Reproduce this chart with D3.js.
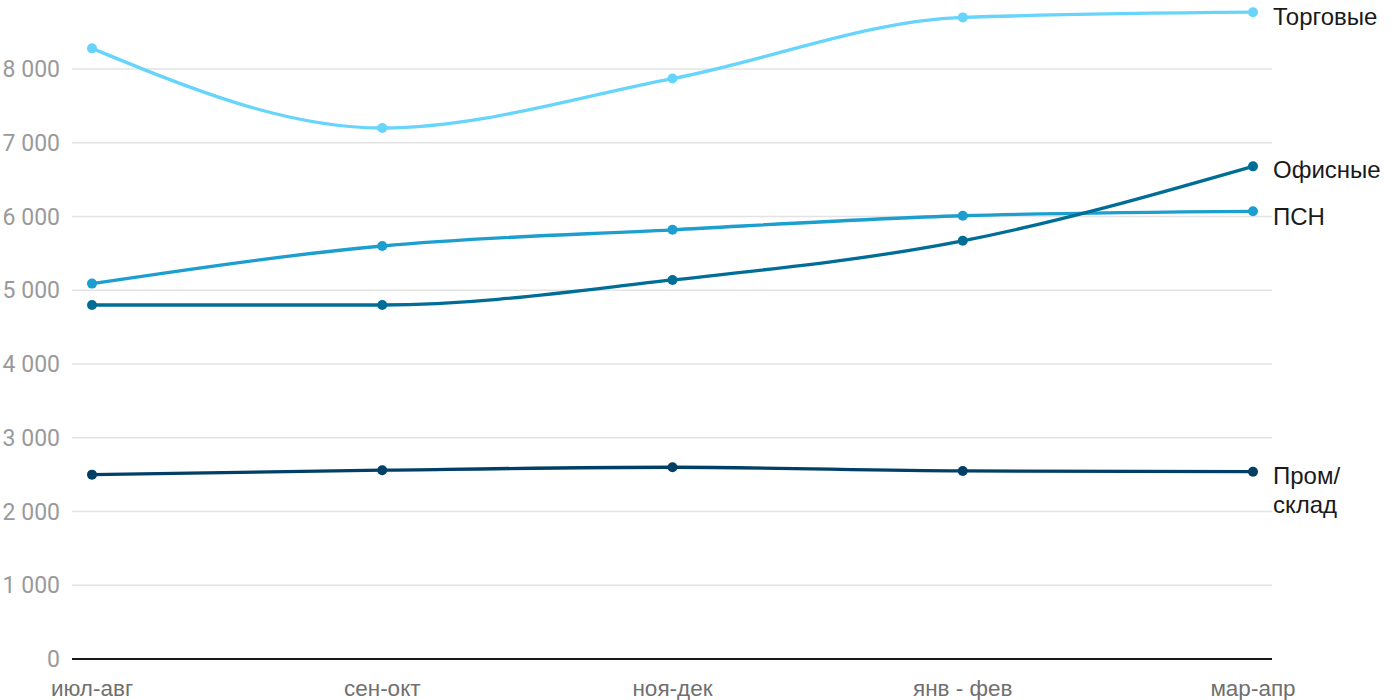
<!DOCTYPE html>
<html>
<head>
<meta charset="utf-8">
<script src="https://cdn.jsdelivr.net/npm/d3@7"></script>
<style>
  body { margin: 0; background: #fff; }
  svg { display: block; }
</style>
</head>
<body>
<div id="chart"></div>
<script>
const periods = ["июл-авг", "сен-окт", "ноя-дек", "янв - фев", "мар-апр"]
const yTicks = [0, 1000, 2000, 3000, 4000, 5000, 6000, 7000, 8000]

const seriesNames = ["Торговые", "ПСН", "Офисные", "Пром/склад"]
const torgovye = [8280, 7200, 7870, 8700, 8770]
const psn = [5090, 5600, 5820, 6010, 6070]
const ofisnye = [4800, 4800, 5140, 5670, 6680]
const promsklad = [2500, 2560, 2600, 2550, 2540]

const width = 1400
const height = 700

const colors = {
    "Торговые": "#66d4fb",
    "ПСН": "#1c9ecf",
    "Офисные": "#006d97",
    "Пром/склад": "#003f66"
}

const series = [
    { name: "Торговые", values: torgovye, label: ["Торговые"], dy: 4 },
    { name: "ПСН", values: psn, label: ["ПСН"], dy: 5 },
    { name: "Офисные", values: ofisnye, label: ["Офисные"], dy: 3 },
    { name: "Пром/склад", values: promsklad, label: ["Пром/", "склад"], dy: 4 }
]

const xScale = d3.scalePoint().domain(periods).range([92, 1253])
const yScale = d3.scaleLinear().domain([0, 8000]).range([659, 69])

const svg = d3.select('#chart').append('svg').attr('width', width).attr('height', height)

// grid
svg.append('g').selectAll('line').data(yTicks.filter(function(d) { return d > 0 }))
    .enter().append('line')
    .attr('x1', 72).attr('x2', 1272)
    .attr('y1', function(d) { return yScale(d) })
    .attr('y2', function(d) { return yScale(d) })
    .attr('stroke', '#e3e3e3')
    .attr('stroke-width', 1.5)

// y labels
svg.append('g').selectAll('text').data(yTicks)
    .enter().append('text')
    .attr('x', 60)
    .attr('y', function(d) { return yScale(d) })
    .attr('dy', '0.35em')
    .attr('text-anchor', 'end')
    .attr('font-family', 'Roboto, sans-serif')
    .attr('font-size', '23px')
    .attr('fill', '#9a9a9a')
    .text(function(d) { return d3.format(',')(d).replace(/,/g, ' ') })

// baseline
svg.append('line')
    .attr('x1', 72).attr('x2', 1272)
    .attr('y1', yScale(0)).attr('y2', yScale(0))
    .attr('stroke', '#1a1a1a')
    .attr('stroke-width', 2)

// x labels
svg.append('g').selectAll('text').data(periods)
    .enter().append('text')
    .attr('x', function(d) { return xScale(d) })
    .attr('y', 696)
    .attr('text-anchor', 'middle')
    .attr('font-family', '"Liberation Sans", Arial, sans-serif')
    .attr('font-size', '22.5px')
    .attr('fill', '#707070')
    .text(function(d) { return d })

const line = d3.line()
    .x(function(d, i) { return xScale(periods[i]) })
    .y(function(d) { return yScale(d) })
    .curve(d3.curveMonotoneX)

series.forEach(function(s) {
    const g = svg.append('g')
    g.append('path')
        .attr('d', line(s.values))
        .attr('fill', 'none')
        .attr('stroke', colors[s.name])
        .attr('stroke-width', 3.3)
    g.selectAll('circle').data(s.values)
        .enter().append('circle')
        .attr('cx', function(d, i) { return xScale(periods[i]) })
        .attr('cy', function(d) { return yScale(d) })
        .attr('r', 5)
        .attr('fill', colors[s.name])

    const last = s.values[s.values.length - 1]
    const t = g.append('text')
        .attr('x', 1273)
        .attr('y', yScale(last) + s.dy)
        .attr('font-family', '"Liberation Sans", Arial, sans-serif')
        .attr('font-size', '24px')
        .attr('fill', '#1a1a1a')
    s.label.forEach(function(l, i) {
        t.append('tspan')
            .attr('x', 1273)
            .attr('dy', i === 0 ? '0.35em' : '1.2em')
            .text(l)
    })
})
</script>
</body>
</html>
